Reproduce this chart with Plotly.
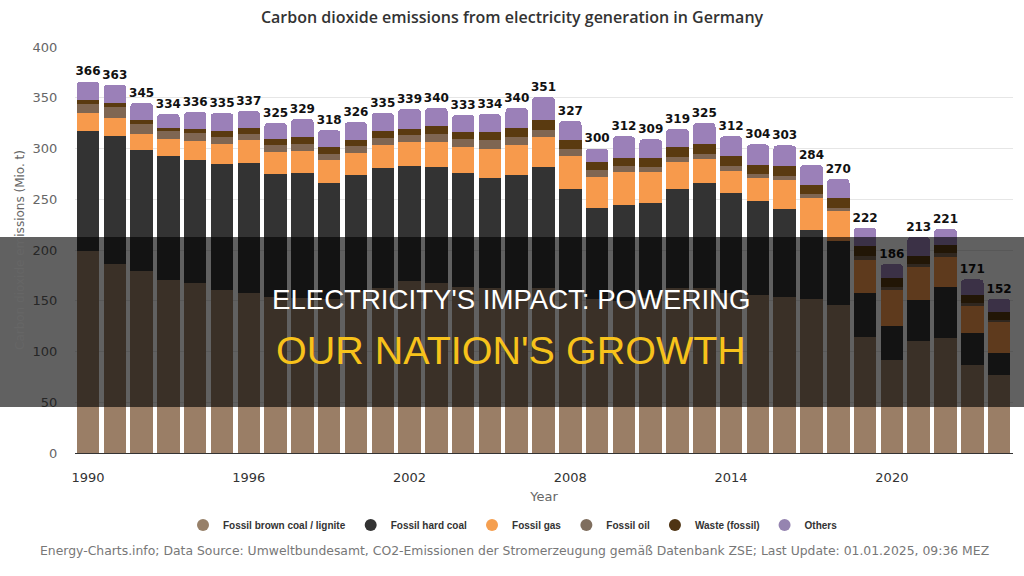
import plotly.graph_objects as go

years = list(range(1990, 2025))
brown_coal = [199, 186, 179, 170, 167, 161, 158, 154, 153, 152, 160, 163, 169, 167, 164, 163, 161, 163,
              158, 152, 150, 153, 163, 163, 158, 156, 154, 152, 146, 114, 92, 110, 113, 87, 77]
hard_coal = [118, 126, 120, 123, 122, 124, 128, 121, 123, 114, 114, 118, 114, 115, 112, 108, 113, 119,
             102, 89, 94, 93, 97, 103, 98, 92, 86, 68, 63, 44, 33, 41, 51, 31, 22]
fossil_gas = [18, 18, 15, 16, 18, 19, 22, 22, 22, 23, 22, 22, 23, 24, 25, 29, 29, 29,
              33, 31, 33, 31, 27, 24, 22, 23, 29, 31, 29, 32, 36, 32, 29, 27, 30]
fossil_oil = [9, 11, 10, 8, 8, 7, 6, 6, 6, 6, 6, 7, 7, 8, 8, 8, 8, 7,
              7, 7, 6, 5, 5, 5, 5, 4, 4, 4, 3, 4, 3, 3, 4, 3, 2]
waste = [4, 4, 4, 3, 4, 6, 6, 6, 7, 6, 6, 7, 6, 8, 7, 8, 9, 10,
         8, 8, 8, 9, 9, 9, 10, 9, 10, 9, 10, 10, 8, 8, 8, 8, 8]
others = [18, 18, 17, 14, 17, 18, 17, 16, 18, 17, 18, 18, 20, 18, 17, 18, 20, 23,
          19, 13, 21, 18, 18, 21, 19, 20, 20, 20, 19, 18, 14, 19, 16, 15, 13]

series_names = ["Fossil brown coal / lignite", "Fossil hard coal", "Fossil gas",
                "Fossil oil", "Waste (fossil)", "Others"]
series_values = [brown_coal, hard_coal, fossil_gas, fossil_oil, waste, others]
bar_colors = ["#9a7e66", "#333333", "#f79a4c", "#7f6652", "#5a3a10", "#9b80b8"]
legend_colors = ["#978069", "#333333", "#f59f50", "#7f6e5e", "#4f3413", "#9584b0"]

totals = [sum(v) for v in zip(*series_values)]
label_gap = 3  # small visual gap between stack top and its total label

x_ticks = [1990, 1996, 2002, 2008, 2014, 2020]
y_ticks = [0, 50, 100, 150, 200, 250, 300, 350, 400]

fig = go.Figure()
for name, vals, col in zip(series_names, series_values, bar_colors):
    fig.add_trace(go.Bar(x=years, y=vals, name=name, marker=dict(color=col, line=dict(width=0)),
                         showlegend=False, legendgroup=name))
for name, lcol in zip(series_names, legend_colors):
    fig.add_trace(go.Scatter(x=[None], y=[None], mode="markers", name=name, legendgroup=name,
                             marker=dict(color=lcol, size=11, symbol="circle")))

fig.add_trace(go.Scatter(x=years, y=[t + label_gap for t in totals], mode="text",
                         text=[str(t) for t in totals],
                         textposition="top center", showlegend=False, hoverinfo="skip",
                         textfont=dict(family="DejaVu Sans", size=12, color="#111111", weight="bold")))

W, H = 1024, 576
L, R, T, B = 75, 11, 47, 123
pw, ph = W - L - R, H - T - B


def px_x(p):
    return (p - L) / pw


def px_y(p):
    return (H - B - p) / ph


fig.update_layout(
    width=W, height=H,
    margin=dict(l=L, r=R, t=T, b=B, pad=0),
    paper_bgcolor="white", plot_bgcolor="white",
    barmode="stack", bargap=0.16, barcornerradius=4,
    font=dict(family="DejaVu Sans", color="#666666"),
    title=dict(text="Carbon dioxide emissions from electricity generation in Germany",
               x=0.5, xanchor="center", y=1 - 17 / H, yanchor="middle",
               font=dict(family="Open Sans", size=16, color="#333333", weight=600)),
    xaxis=dict(range=[1989.515, 2024.52], tickvals=x_ticks, showgrid=False,
               showline=True, linecolor="#333333", linewidth=1,
               ticks="outside", ticklen=12, tickcolor="rgba(0,0,0,0)",
               tickfont=dict(size=13, color="#333333"),
               title=dict(text="Year", font=dict(size=13, color="#666666"), standoff=8),
               zeroline=False),
    yaxis=dict(range=[0, 400], tickvals=y_ticks, gridcolor="#e6e6e6", gridwidth=1,
               zeroline=False, showline=False,
               ticks="outside", ticklen=14, tickcolor="rgba(0,0,0,0)",
               tickfont=dict(size=13, color="#666666")),
    legend=dict(orientation="h", x=px_x(513), xanchor="center", y=px_y(525), yanchor="middle",
                font=dict(family="Liberation Sans", size=10, color="#333333", weight="bold"),
                itemsizing="constant", tracegroupgap=0, itemwidth=30, bgcolor="rgba(0,0,0,0)"),
    showlegend=True,
)

fig.add_annotation(text="Carbon dioxide emissions (Mio. t)", textangle=-90,
                   xref="paper", yref="paper", x=px_x(20), y=px_y(250),
                   xanchor="center", yanchor="middle", showarrow=False,
                   font=dict(family="DejaVu Sans", size=12, color="#666666"))

fig.add_annotation(text="Energy-Charts.info; Data Source: Umweltbundesamt, CO2-Emissionen der Stromerzeugung gemäß Datenbank ZSE; Last Update: 01.01.2025, 09:36 MEZ",
                   xref="paper", yref="paper", x=px_x(38), y=px_y(550), xanchor="left", yanchor="middle",
                   showarrow=False, font=dict(family="DejaVu Sans", size=12.4, color="#777777"))

# dark overlay band with headline
fig.add_shape(type="rect", xref="paper", yref="paper", x0=px_x(-5), x1=px_x(1030),
              y0=px_y(407), y1=px_y(237), fillcolor="rgba(0,0,0,0.62)", line=dict(width=0),
              layer="above")
fig.add_annotation(text="ELECTRICITY'S IMPACT: POWERING", xref="paper", yref="paper",
                   x=px_x(511), y=px_y(299), xanchor="center", yanchor="middle", showarrow=False,
                   font=dict(family="Liberation Sans", size=27.6, color="#ffffff"))
fig.add_annotation(text="OUR NATION'S GROWTH", xref="paper", yref="paper",
                   x=px_x(511), y=px_y(350), xanchor="center", yanchor="middle", showarrow=False,
                   font=dict(family="Liberation Sans", size=39.5, color="#f7c21b"))

fig.write_html("out.html")
